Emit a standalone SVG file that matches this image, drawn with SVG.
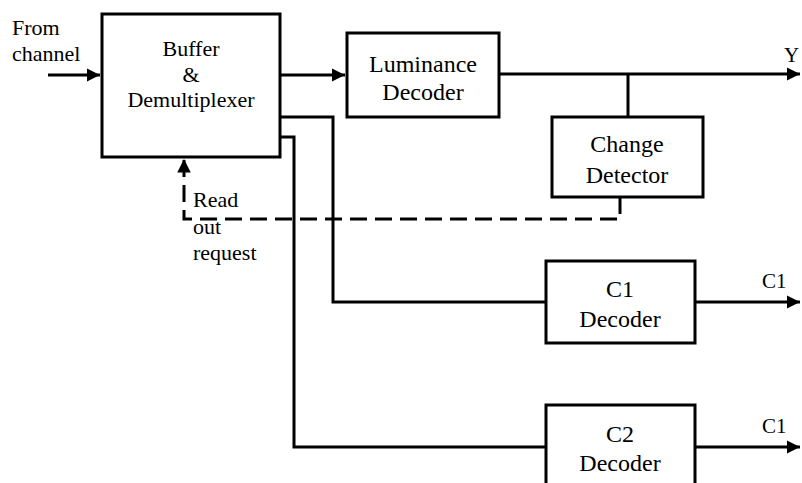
<svg xmlns="http://www.w3.org/2000/svg" width="802" height="483" viewBox="0 0 802 483">
<defs>
<marker id="ah" viewBox="0 0 10 10" refX="10" refY="5" markerWidth="4.5" markerHeight="4.5" orient="auto" markerUnits="strokeWidth"><path d="M0,0 L10,5 L0,10 z" fill="#000"/></marker>
</defs>
<style>
.box{fill:#fff;stroke:#000;stroke-width:3}
.ln{fill:none;stroke:#000;stroke-width:3}
.dash{fill:none;stroke:#000;stroke-width:3;stroke-dasharray:17 8}
text{font-family:'Liberation Serif','Times New Roman',serif;font-size:22px;fill:#000}
.c{text-anchor:middle}
.big{font-size:24px}
.lab{font-size:21px}
</style>
<rect width="802" height="483" fill="#fff"/>
<g id="connectors">
<path class="ln" d="M48,75 H100" marker-end="url(#ah)"/>
<path class="ln" d="M280,75 H345" marker-end="url(#ah)"/>
<path class="ln" d="M499,74 H800" marker-end="url(#ah)"/>
<path class="ln" d="M628,74 V117"/>
<path class="ln" d="M280,117 H333 V302 H546"/>
<path class="ln" d="M280,137 H294 V447 H546"/>
<path class="ln" d="M695,302 H800" marker-end="url(#ah)"/>
<path class="ln" d="M695,447 H800" marker-end="url(#ah)"/>
<path class="dash" d="M620,197 V219 H184 V159" marker-end="url(#ah)"/>
</g>
<g id="from-channel">
<text x="12" y="35">From</text>
<text x="12" y="61">channel</text>
</g>
<g id="buffer">
<rect class="box" x="102" y="14" width="178" height="143"/>
<text class="c" x="191" y="56">Buffer</text>
<text class="c" x="191" y="82">&amp;</text>
<text class="c" x="191" y="107">Demultiplexer</text>
</g>
<g id="luminance">
<rect class="box" x="347" y="33" width="152" height="84"/>
<text class="c big" x="423" y="72">Luminance</text>
<text class="c big" x="423" y="100">Decoder</text>
</g>
<g id="y-label"><text class="lab" x="784" y="62">Y</text></g>
<g id="change-detector">
<rect class="box" x="552" y="117" width="151" height="80"/>
<text class="c big" x="627" y="152">Change</text>
<text class="c big" x="627" y="183">Detector</text>
</g>
<g id="read-label">
<text x="193" y="207">Read</text>
<text x="193" y="234">out</text>
<text x="193" y="260">request</text>
</g>
<g id="c1-decoder">
<rect class="box" x="546" y="261" width="149" height="82"/>
<text class="c big" x="620" y="297">C1</text>
<text class="c big" x="620" y="327">Decoder</text>
</g>
<g id="c1-label"><text class="lab" x="762" y="288">C1</text></g>
<g id="c2-decoder">
<rect class="box" x="546" y="405" width="149" height="90"/>
<text class="c big" x="620" y="442">C2</text>
<text class="c big" x="620" y="471">Decoder</text>
</g>
<g id="c1b-label"><text class="lab" x="762" y="433">C1</text></g>
</svg>
